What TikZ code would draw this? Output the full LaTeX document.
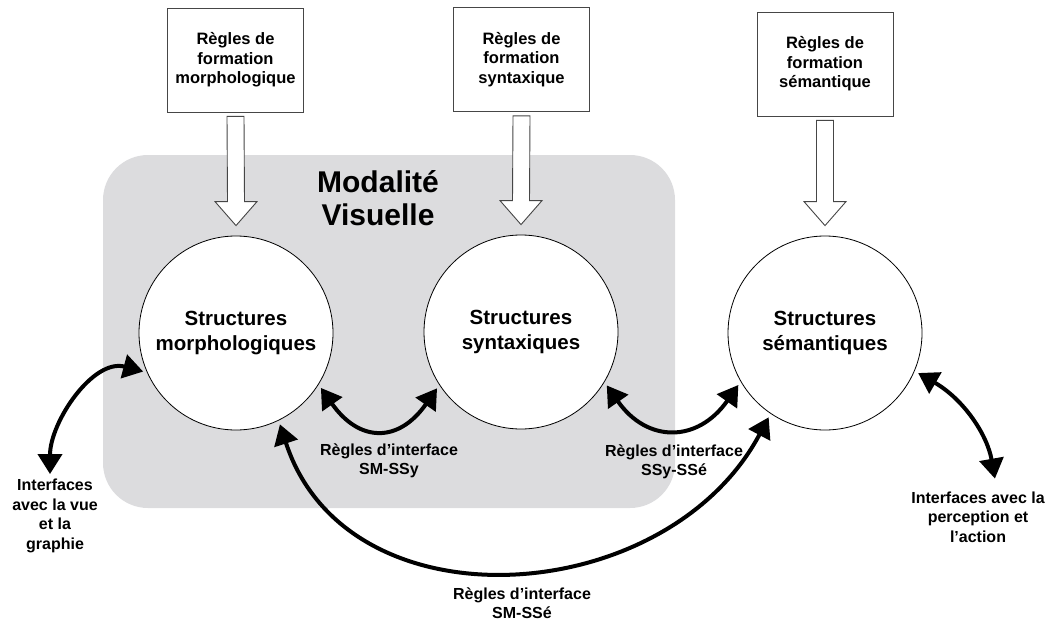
\documentclass[tikz,border=0pt]{standalone}
\usepackage{fontspec}
\setmainfont{Liberation Sans}
\usetikzlibrary{arrows.meta,calc}

\definecolor{fondgris}{RGB}{220,220,222}
\definecolor{trait}{RGB}{70,70,70}

\begin{document}
\begin{tikzpicture}[x=1pt,y=1pt,
    regle/.style={draw=trait,line width=0.9pt,minimum width=136pt,minimum height=104pt,
        align=center,font=\fontsize{16.5}{19.5}\selectfont\bfseries},
    struct/.style={circle,draw=black,line width=0.8pt,fill=white,minimum size=194pt,inner sep=0pt,
        align=center,font=\fontsize{20.5}{25}\selectfont\bfseries},
    etiq/.style={align=center,inner sep=1pt,font=\fontsize{16}{19.5}\selectfont\bfseries},
    creuse/.style={draw=trait,line width=0.9pt,fill=white,line join=miter},
    lien/.style={line width=4pt,{Triangle[length=20pt,width=24pt]}-{Triangle[length=20pt,width=24pt]},
        shorten <=4pt,shorten >=4pt}]
    \useasboundingbox (0,0) rectangle (1051,-623);

    % la modalite visuelle
    \fill[fondgris,rounded corners=45pt] (103,-155) rectangle (675,-508);
    \node[align=center,font=\fontsize{30}{33}\selectfont\bfseries] (modal) at (378,-198) {Modalité\\Visuelle};

    % regles de formation
    \node[regle] (rmorpho) at (235.5,-60) {Règles de\\formation\\morphologique};
    \node[regle] (rsynt) at (521.5,-59.5) {Règles de\\formation\\syntaxique};
    \node[regle] (rsem) at (825,-64) {Règles de\\formation\\sémantique};

    % structures
    \node[struct] (morpho) at (236,-333) {Structures\\morphologiques};
    \node[struct] (synt) at (521,-332) {Structures\\syntaxiques};
    \node[struct] (sem) at (825,-333) {Structures\\sémantiques};

    \foreach \r/\s in {rmorpho/morpho, rsynt/synt, rsem/sem}
        \draw[creuse] ($(\r.south)+(-8.5,-4)$) -- ($(\s.north)+(-8.5,34)$) -- ++(-12.5,0)
            -- ($(\s.north)+(0,10)$) -- ++(21,24) -- ++(-12.5,0) -- ($(\r.south)+(8.5,-4)$) -- cycle;

    % interfaces
    \node[etiq] (vue) at (55,-516) {Interfaces\\avec la vue\\et la\\graphie};
    \node[etiq] (ifsy) at (389,-461) {Règles d’interface\\SM-SSy};
    \node[etiq] (ifse) at (674,-462) {Règles d’interface\\SSy-SSé};
    \node[etiq] (ifme) at (522,-603) {Règles d’interface\\SM-SSé};
    \node[etiq] (act) at (978,-517) {Interfaces avec la\\perception et\\l’action};

    \draw[lien] (morpho.-156) to[out=165,in=90] ([xshift=-5pt]vue.north);
    \draw[lien] (morpho.-32) to[out=-55,in=-125,looseness=1.5] (synt.-147);
    \draw[lien] (synt.-31) to[out=-55,in=-125,looseness=1.4] (sem.-150);
    \draw[lien] (morpho.-64) to[out=-72,in=-118,looseness=1.15] (sem.-124);
    \draw[lien,shorten >=12pt] (sem.-23) to[out=-30,in=100] ([xshift=19pt]act.north);

\end{tikzpicture}
\end{document}
